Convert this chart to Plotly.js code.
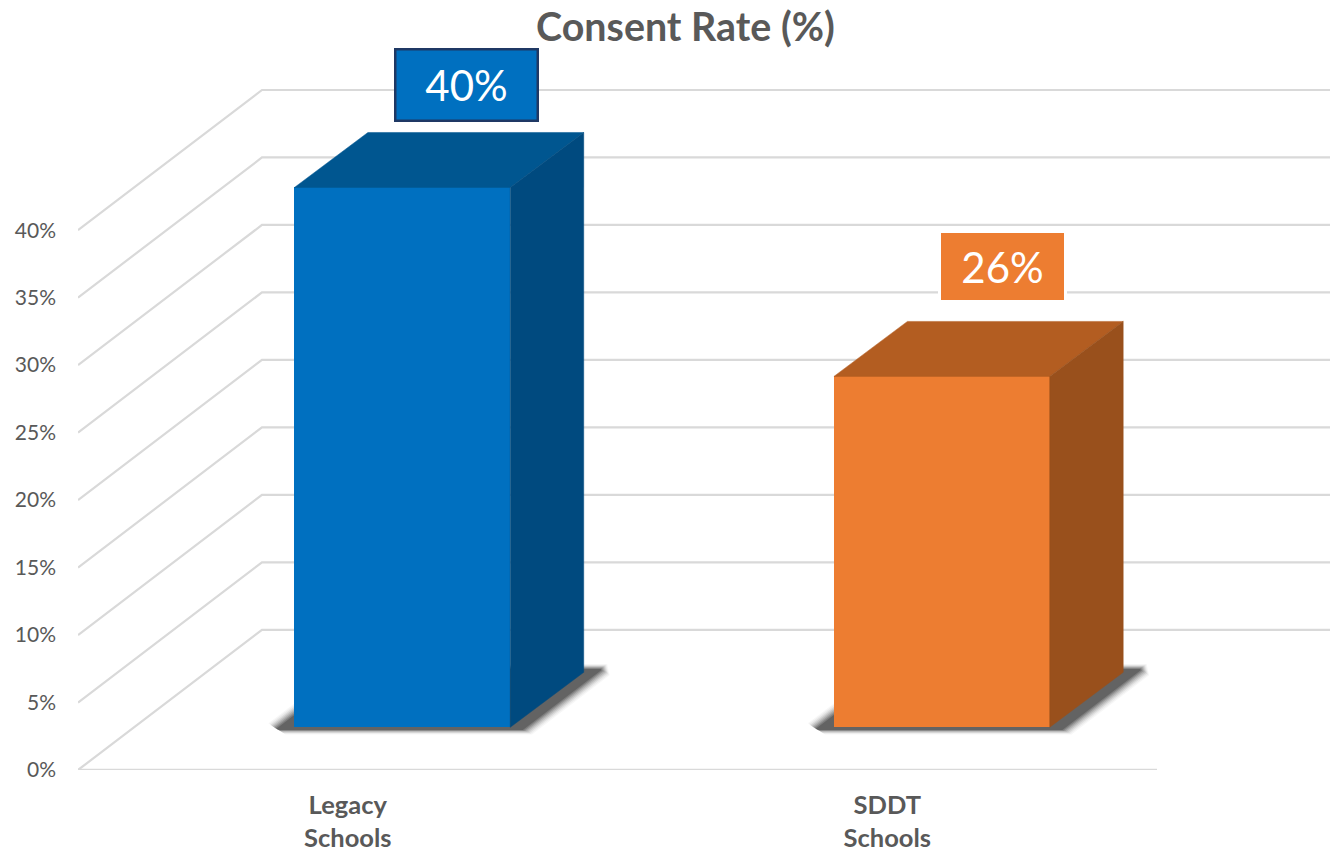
<!DOCTYPE html>
<html>
<head>
<meta charset="utf-8">
<script src="https://cdn.plot.ly/plotly-3.0.1.min.js"></script>
<style>html,body{margin:0;padding:0;background:#fff;overflow:hidden}</style>
</head>
<body>
<div id="chart" style="width:1330px;height:852px"></div>
<script>
// ---- data ----
const categories = ['Legacy<br>Schools', 'SDDT<br>Schools'];
const consentRate = [40, 26];
const valueLabels = ['40%', '26%'];
const gridLevels = [0, 5, 10, 15, 20, 25, 30, 35, 40];
const tickLabels = ['0%', '5%', '10%', '15%', '20%', '25%', '30%', '35%', '40%'];
const frontColors = ['#0070C0', '#ED7D31'];
const topColors = ['#005690', '#B35D21'];
const sideColors = ['#004A7F', '#99501C'];

// ---- pseudo-3D projection, in axis units ----
const DEPTH_X = 0.341, DEPTH_Y = 10.385;      // shift from the front plane to the back wall
const BAR_FRONT = 0.3046, BAR_BACK = 0.6969, BAR_HALF = 0.2;
const BAR_FRONT_X = 0.1012, BAR_BACK_X = 0.2374;
const px = (c, d) => c + d * DEPTH_X;
const py = (v, d) => v + d * DEPTH_Y;
const poly = pts => ({x: pts.map(p => p[0]), y: pts.map(p => p[1])});

const traces = [];
const FONT = 'Lato, Carlito, Calibri, sans-serif';

// wall and floor gridlines
gridLevels.forEach(v => {
  traces.push({type: 'scatter', mode: 'lines', zorder: 0, hoverinfo: 'skip', showlegend: false,
    x: [-0.5, px(-0.5, 1), 1.83], y: [v, py(v, 1), py(v, 1)],
    line: {color: '#D9D9D9', width: 2.2}});
});
traces.push({type: 'scatter', mode: 'lines', zorder: 0, hoverinfo: 'skip', showlegend: false,
  x: [-0.5, 1.5], y: [0, 0], line: {color: '#D9D9D9', width: 2.6}});

// soft floor shadows, outer layers first:
// half width, front depth, back depth, share of the slanted edge trimmed at the tips, colour
const shadowLayers = [
  [0.258, 0.254, 0.756, 0.16, 'rgba(60,60,60,0.04)'],
  [0.254, 0.259, 0.751, 0.14, 'rgba(60,60,60,0.06)'],
  [0.250, 0.264, 0.746, 0.12, 'rgba(60,60,60,0.09)'],
  [0.246, 0.269, 0.741, 0.10, 'rgba(60,60,60,0.12)'],
  [0.242, 0.274, 0.736, 0.08, 'rgba(60,60,60,0.16)'],
  [0.238, 0.278, 0.731, 0.06, 'rgba(60,60,60,0.21)'],
  [0.234, 0.282, 0.726, 0.04, 'rgba(60,60,60,0.28)'],
  [0.230, 0.286, 0.721, 0.02, 'rgba(60,60,60,0.40)']
];
consentRate.forEach((_, c) => {
  shadowLayers.forEach(([h, df, db, t, col]) => {
    const fx = px(c, df) - 0.003, bx = px(c, db) - 0.003;
    const run = bx - fx, rise = db - df;
    const pts = [
      [fx - h + t * run * 1.0 + t * 0.2, py(0, df)],
      [fx + h, py(0, df)],
      [bx + h - t * run, py(0, db - t * rise)],
      [bx + h - t * 0.2, py(0, db)],
      [bx - h, py(0, db)],
      [fx - h + t * run, py(0, df + t * rise)]
    ];
    traces.push(Object.assign({type: 'scatter', mode: 'lines', zorder: 1, hoverinfo: 'skip', showlegend: false,
      fill: 'toself', fillcolor: col, line: {width: 0}}, poly(pts.concat([pts[0]]))));
  });
});

// front faces
traces.push({type: 'bar', zorder: 2, showlegend: false, hoverinfo: 'skip',
  x: consentRate.map((_, c) => c + BAR_FRONT_X),
  y: consentRate,
  base: consentRate.map(() => py(0, BAR_FRONT)),
  width: BAR_HALF * 2,
  marker: {color: frontColors, line: {width: 0}}});

// top and side faces
consentRate.forEach((v, c) => {
  const fl = c + BAR_FRONT_X - BAR_HALF, fr = c + BAR_FRONT_X + BAR_HALF;
  const bl = c + BAR_BACK_X - BAR_HALF, br = c + BAR_BACK_X + BAR_HALF;
  const topF = py(v, BAR_FRONT), topB = py(v, BAR_BACK);
  const botF = py(0, BAR_FRONT), botB = py(0, BAR_BACK);
  traces.push(Object.assign({type: 'scatter', mode: 'lines', zorder: 2, hoverinfo: 'skip', showlegend: false,
    fill: 'toself', fillcolor: topColors[c], line: {width: 0.5, color: topColors[c]}},
    poly([[fl, topF], [fr, topF], [br, topB], [bl, topB], [fl, topF]])));
  traces.push(Object.assign({type: 'scatter', mode: 'lines', zorder: 2, hoverinfo: 'skip', showlegend: false,
    fill: 'toself', fillcolor: sideColors[c], line: {width: 0.5, color: sideColors[c]}},
    poly([[fr, botF], [br, botB], [br, topB], [fr, topF], [fr, botF]])));
});

// value labels
const labelStyle = [
  {dx: -9, dy: 47.5, w: 140, h: 69, border: '#1F3864', bw: 2.5},
  {dx: -13, dy: 54.5, w: 123, h: 67, border: '#FFFFFF', bw: 3}
];
const annotations = consentRate.map((v, c) => ({
  x: c + BAR_BACK_X, y: py(v, BAR_BACK), xref: 'x', yref: 'y',
  text: valueLabels[c], showarrow: false,
  xshift: labelStyle[c].dx, yshift: labelStyle[c].dy,
  width: labelStyle[c].w, height: labelStyle[c].h,
  align: 'center', valign: 'middle',
  bgcolor: frontColors[c], bordercolor: labelStyle[c].border,
  borderwidth: labelStyle[c].bw, borderpad: 0,
  font: {family: FONT, size: 42, color: '#FFFFFF'}
}));

const layout = {
  width: 1330, height: 852, autosize: false,
  margin: {l: 78, r: 0, t: 50, b: 81.8, pad: 0},
  paper_bgcolor: '#FFFFFF', plot_bgcolor: '#FFFFFF',
  showlegend: false, bargap: 0,
  title: {text: '<b>Consent Rate (%)</b>', x: 0.5154, xanchor: 'center', y: 0.968, yanchor: 'middle',
    font: {family: FONT, size: 39.4, color: '#595959'}},
  xaxis: {range: [-0.5, 1.8207], fixedrange: true, showgrid: false, zeroline: false, showline: false,
    tickmode: 'array', tickvals: [0, 1], ticktext: categories, ticks: '',
    ticklabelstandoff: 17,
    tickfont: {family: FONT, size: 25.5, color: '#595959', weight: 700}},
  yaxis: {range: [0, 53.348], fixedrange: true, showgrid: false, zeroline: false, showline: false,
    tickmode: 'array', tickvals: gridLevels, ticktext: tickLabels, ticks: '',
    ticklabelstandoff: 21,
    tickfont: {family: FONT, size: 21, color: '#595959'}},
  annotations
};
Plotly.newPlot('chart', traces, layout, {displayModeBar: false, staticPlot: true});
</script>
</body>
</html>
